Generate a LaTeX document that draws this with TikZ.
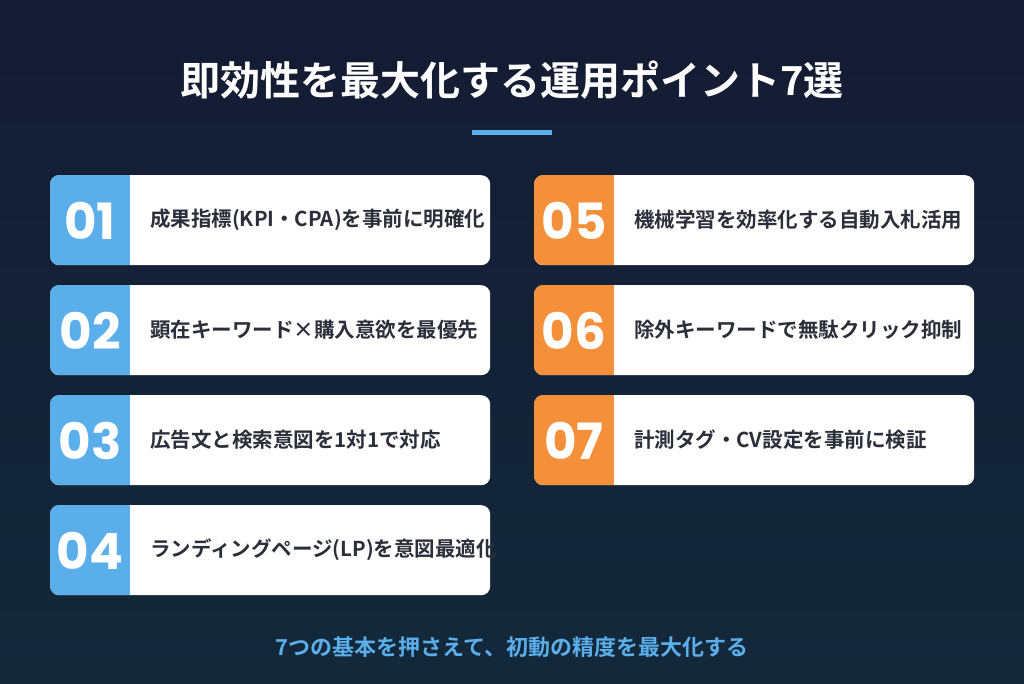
\documentclass[tikz,border=0pt]{standalone}
\usepackage{fontspec}
\setmainfont{Noto Sans CJK JP}[BoldFont={Noto Sans CJK JP Bold}]
\newfontfamily\numfont{Poppins}[BoldFont={Poppins Bold}]
\definecolor{bgtop}{HTML}{141B33}
\definecolor{bgbot}{HTML}{13293A}
\definecolor{cblue}{HTML}{5AAEEA}
\definecolor{corange}{HTML}{F5903A}
\definecolor{ctext}{HTML}{2B2F3A}
\tikzset{
 card/.style={fill=white,rounded corners=9pt},
 numtxt/.style={text=white,font=\numfont\bfseries\fontsize{50}{50}\selectfont,anchor=center},
 cardtxt/.style={text=ctext,font=\bfseries\fontsize{20.5}{22}\selectfont,anchor=west,inner sep=0}
}
\newcommand\mkcard[5]{% x y color num text
 \node[card,minimum width=440pt,minimum height=90pt,anchor=north west,inner sep=0] (c#4) at (#1,#2) {};
 \begin{scope}
 \clip[rounded corners=9pt] (#1,#2) rectangle ++(440,90);
 \fill[#3] (#1,#2) rectangle ++(80,90);
 \end{scope}
 \node[numtxt] (n#4) at ({#1+40},{#2+46}) {#4};
 \node[cardtxt] (t#4) at ({#1+100},{#2+45}) {#5};
}
\begin{document}
\begin{tikzpicture}[x=1pt,y=-1pt]
\shade[top color=bgtop,bottom color=bgbot] (0,0) rectangle (1024,683);
\useasboundingbox (0,0) rectangle (1024,683);
\node[text=white,font=\bfseries\fontsize{40}{42}\selectfont] (title) at (512,80) {即効性を最大化する運用ポイント7選};
\fill[cblue] (472,129.5) rectangle (552,134.5);
\mkcard{50}{175}{cblue}{01}{成果指標(KPI・CPA)を事前に明確化}
\mkcard{50}{285}{cblue}{02}{顕在キーワード×購入意欲を最優先}
\mkcard{50}{395}{cblue}{03}{広告文と検索意図を1対1で対応}
\mkcard{50}{505}{cblue}{04}{ランディングページ(LP)を意図最適化}
\mkcard{534}{175}{corange}{05}{機械学習を効率化する自動入札活用}
\mkcard{534}{285}{corange}{06}{除外キーワードで無駄クリック抑制}
\mkcard{534}{395}{corange}{07}{計測タグ・CV設定を事前に検証}
\node[text=cblue,font=\bfseries\fontsize{22}{24}\selectfont] (foot) at (512,647) {7つの基本を押さえて、初動の精度を最大化する};
\end{tikzpicture}
\end{document}
